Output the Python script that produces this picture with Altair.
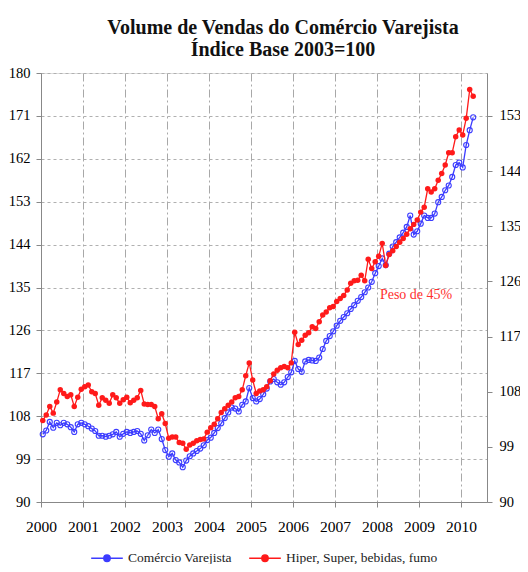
import altair as alt
import pandas as pd

# ---- data (monthly, Jan 2000 - Apr 2010) ----
start_year = 2000
series_names = ["Comércio Varejista", "Hiper, Super, bebidas, fumo"]

# Comércio Varejista (left axis, 2003=100)
varejo = [
    104.2, 105.0, 106.8, 105.6, 106.6, 106.1, 106.6, 106.3, 105.7, 104.7, 106.3, 106.6,  # 2000
    106.3, 105.9, 105.4, 104.9, 103.9, 103.9, 103.7, 103.9, 104.2, 104.7, 103.7, 104.3,  # 2001
    104.7, 104.5, 104.7, 104.9, 104.3, 102.9, 104.0, 105.2, 104.5, 105.2, 103.2, 100.9,  # 2002
    99.5, 100.2, 98.8, 98.3, 97.3, 98.7, 99.6, 100.2, 100.7, 101.2, 101.9, 103.0,        # 2003
    103.5, 104.5, 105.5, 106.5, 107.6, 108.8, 109.8, 109.6, 109.0, 110.4, 111.1, 113.9,  # 2004
    111.8, 111.1, 111.6, 112.6, 113.8, 115.3, 115.8, 115.1, 114.6, 115.1, 116.2, 117.2,  # 2005
    119.6, 117.9, 117.3, 119.5, 119.8, 119.7, 119.6, 120.3, 122.1, 123.8, 124.8, 125.8,  # 2006
    127.0, 128.0, 128.8, 129.6, 130.5, 131.3, 132.2, 133.0, 134.0, 135.0, 136.2, 138.0,  # 2007
    139.5, 141.1, 139.7, 142.1, 143.6, 144.5, 145.5, 146.5, 147.7, 150.1, 146.1, 146.8,  # 2008
    148.4, 150.1, 149.6, 149.6, 150.5, 152.9, 154.0, 155.4, 156.4, 158.2, 160.7, 161.2,  # 2009
    160.2, 164.9, 168.0, 170.7,                                                          # 2010
]

# Hiper, Super, bebidas, fumo (right axis, 2003=100)
hiper = [
    103.3, 104.2, 105.6, 104.5, 106.3, 108.3, 107.7, 107.2, 107.5, 105.6, 107.1, 108.4,  # 2000
    108.8, 109.1, 108.0, 107.7, 105.8, 107.0, 106.6, 106.1, 107.5, 107.0, 106.1, 106.7,  # 2001
    107.1, 106.2, 106.6, 107.0, 108.2, 106.0, 105.9, 105.9, 105.6, 103.6, 104.4, 102.8,  # 2002
    100.4, 100.6, 100.6, 99.7, 99.6, 98.6, 99.3, 99.6, 100.0, 100.2, 100.3, 101.4,       # 2003
    102.1, 102.7, 103.6, 104.6, 105.2, 105.8, 106.3, 107.0, 107.2, 108.3, 110.6, 112.7,  # 2004
    109.9, 107.7, 108.1, 108.3, 108.8, 109.8, 110.9, 111.5, 111.9, 112.1, 111.9, 112.7,  # 2005
    117.7, 115.7, 116.4, 117.2, 117.6, 118.6, 118.3, 119.4, 120.5, 121.0, 121.7, 121.9,  # 2006
    122.7, 123.2, 123.7, 124.6, 125.7, 126.1, 126.2, 127.0, 126.1, 129.6, 128.1, 129.2,  # 2007
    130.1, 132.2, 128.6, 130.4, 131.0, 131.7, 132.4, 133.0, 133.7, 134.6, 135.3, 136.0,  # 2008
    137.3, 138.1, 141.1, 140.6, 141.1, 142.5, 143.6, 145.0, 147.0, 147.0, 149.6, 150.7,  # 2009
    149.9, 152.6, 157.3, 156.2,                                                          # 2010
]

x_ticks = list(range(2000, 2011))
left_ticks = list(range(90, 181, 9))
right_ticks = list(range(90, 154, 9))

note_text = ["Peso de 45%"]
note_x = [2008.07]
note_y = [133.4]

blue = "#3c3cff"
red = "#ff1a1a"
serif = "Liberation Serif"

# decimal-year positions (mid-month)
t_v = [start_year + (i + 0.5) / 12 for i in range(len(varejo))]
t_h = [start_year + (i + 0.5) / 12 for i in range(len(hiper))]
df_v = pd.DataFrame({"t": t_v, "v": varejo, "s": series_names[0]})
df_h = pd.DataFrame({"t": t_h, "v": hiper, "s": series_names[1]})
df_note = pd.DataFrame({"t": note_x, "v": note_y, "txt": note_text})

x_enc = alt.X(
    "t:Q",
    scale=alt.Scale(domain=[2000, 2010.62], nice=False, zero=False),
    axis=alt.Axis(
        values=x_ticks, format="d", title=None, grid=True,
        gridDash=[8, 3, 2, 3], gridColor="#a8a8a8", gridWidth=1,
        tickSize=5, labelPadding=12, labelFontSize=15.5, labelFont=serif,
        labelOverlap=False, labelFlush=False,
    ),
)

color_enc = alt.Color(
    "s:N",
    scale=alt.Scale(domain=series_names, range=[blue, red]),
    legend=alt.Legend(
        title=None, orient="none", direction="horizontal",
        legendX=49, legendY=468,
        symbolType="M-1,0L1,0M0.2,0A0.2,0.2,0,1,1,-0.2,0A0.2,0.2,0,1,1,0.2,0",
        symbolSize=1000, symbolStrokeWidth=1.5,
        labelFont=serif, labelFontSize=13.5, labelColor="#222",
        columnPadding=14,
    ),
)

y_left = alt.Y(
    "v:Q",
    scale=alt.Scale(domain=[90, 180], nice=False, zero=False),
    axis=alt.Axis(
        values=left_ticks, title=None, grid=True, gridDash=[3, 3],
        gridColor="#b0b0b0", tickSize=5, labelPadding=6, labelFontSize=14.5,
        labelFont=serif, labelOverlap=False, labelFlush=False,
    ),
)

y_right = alt.Y(
    "v:Q",
    scale=alt.Scale(domain=[90, 160], nice=False, zero=False),
    axis=alt.Axis(
        values=right_ticks, title=None, grid=False, orient="right",
        tickSize=5, labelPadding=7, labelFontSize=14.5, labelFont=serif,
        labelOverlap=False, labelFlush=False,
    ),
)

base_v = alt.Chart(df_v)
blue_line = base_v.mark_line(strokeWidth=1.3).encode(x=x_enc, y=y_left, color=color_enc)
blue_pts = base_v.mark_point(shape="circle", size=26, filled=False, strokeWidth=1.1, opacity=1).encode(
    x=x_enc, y=y_left, color=color_enc)
note = alt.Chart(df_note).mark_text(
    align="left", baseline="middle", font=serif, fontSize=14, color="#ff3030"
).encode(x=alt.X("t:Q"), y=alt.Y("v:Q"), text="txt:N")

left_layer = alt.layer(blue_line, blue_pts, note)

base_h = alt.Chart(df_h)
red_line = base_h.mark_line(strokeWidth=1.3).encode(x=x_enc, y=y_right, color=color_enc)
red_pts = base_h.mark_circle(size=30, opacity=1).encode(x=x_enc, y=y_right, color=color_enc)
right_layer = alt.layer(red_line, red_pts)

chart = (
    alt.layer(left_layer, right_layer)
    .resolve_scale(y="independent")
    .properties(
        width=446, height=429,
        autosize=alt.AutoSizeParams(type="none"),
        padding={"left": 33, "top": 65, "right": 33, "bottom": 62},
        title=alt.TitleParams(
            text=["Volume de Vendas do Comércio Varejista", "Índice Base 2003=100"],
            font=serif, fontSize=20, fontWeight="bold", color="#111",
            anchor="middle", dx=19, offset=5, lineHeight=22,
        ),
    )
    .configure_view(stroke="#000", strokeWidth=1)
    .configure_axis(
        labelFont=serif, labelColor="#222", domainColor="#000",
        tickColor="#000", domainWidth=1,
    )
    .configure_legend(labelFont=serif, labelFontSize=13.5, labelColor="#222")
    .configure(background="white")
)

chart.save("out.html", embed_options={"renderer": "svg", "actions": False})
